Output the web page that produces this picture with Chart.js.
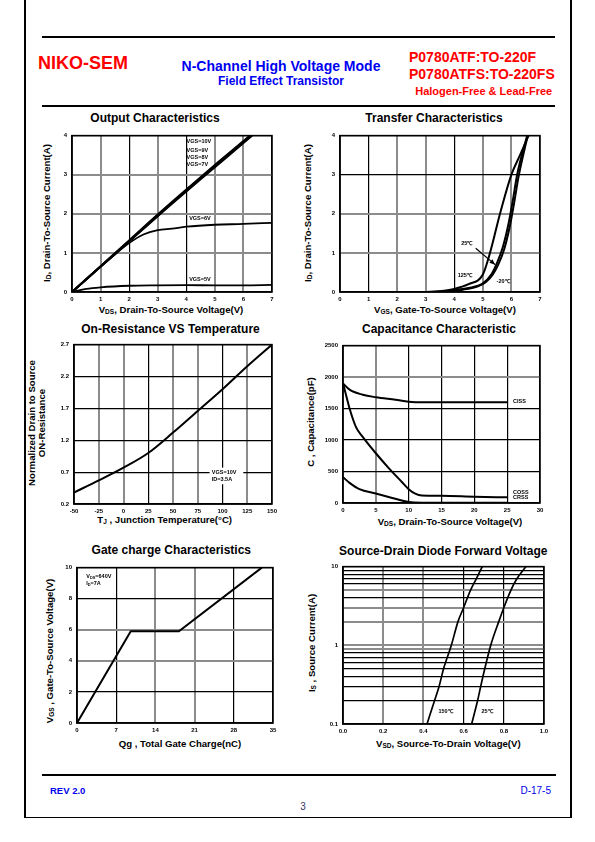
<!DOCTYPE html>
<html>
<head>
<meta charset="utf-8">
<script src="https://cdn.jsdelivr.net/npm/chart.js@4.4.1/dist/chart.umd.min.js"></script>
<style>
  body { margin: 0; background: #fff; }
  #page { position: relative; width: 595px; height: 842px; overflow: hidden; font-family: "Liberation Sans", Arial, sans-serif; }
  .t { position: absolute; white-space: nowrap; line-height: 1; font-weight: bold; color: #000; }
  .c { transform: translateX(-50%); }
  .r { transform: translate(-50%, -50%) rotate(-90deg); }
  .s { font-size: 0.68em; vertical-align: -0.12em; }
  .ln { position: absolute; background: #000; }
  canvas { position: absolute; }
  .red { color: #ff0000; }
  .blue { color: #0000f0; }
  .ttl { font-size: 12px; }
  .ax { font-size: 9.6px; }
</style>
</head>
<body>
<div id="page">
  <!-- page frame -->
  <div class="ln" style="left:24px;top:0;width:1.5px;height:818px"></div>
  <div class="ln" style="left:570px;top:0;width:1.5px;height:818px"></div>
  <div class="ln" style="left:24px;top:816.5px;width:547.5px;height:1.5px"></div>
  <div class="ln" style="left:42px;top:36px;width:513px;height:2px"></div>
  <div class="ln" style="left:42px;top:105px;width:513px;height:2px"></div>
  <div class="ln" style="left:42px;top:774px;width:514px;height:2px"></div>

  <!-- header -->
  <div class="t red" style="left:38px;top:54px;font-size:18px">NIKO-SEM</div>
  <div class="t blue c" style="left:281px;top:59.2px;font-size:14px">N-Channel High Voltage Mode</div>
  <div class="t blue c" style="left:281px;top:75.1px;font-size:12px">Field Effect Transistor</div>
  <div class="t red" style="left:409px;top:50.4px;font-size:14px">P0780ATF:TO-220F</div>
  <div class="t red" style="left:409px;top:66.9px;font-size:14px">P0780ATFS:TO-220FS</div>
  <div class="t red c" style="left:483.7px;top:85.8px;font-size:11px">Halogen-Free &amp; Lead-Free</div>

  <!-- footer -->
  <div class="t blue" style="left:50px;top:785.5px;font-size:9.5px">REV 2.0</div>
  <div class="t blue" style="right:44px;top:785.5px;font-size:10px;font-weight:normal">D-17-5</div>
  <div class="t c" style="left:303px;top:802px;font-size:10px;font-weight:normal;color:#333366">3</div>

  <!-- chart titles -->
  <div class="t c ttl" style="left:155px;top:111.7px">Output Characteristics</div>
  <div class="t c ttl" style="left:434px;top:112.4px">Transfer Characteristics</div>
  <div class="t c ttl" style="left:170.5px;top:323.4px">On-Resistance VS Temperature</div>
  <div class="t c ttl" style="left:439px;top:323.4px">Capacitance Characteristic</div>
  <div class="t c ttl" style="left:171.3px;top:544.1px">Gate charge Characteristics</div>
  <div class="t c ttl" style="left:443.3px;top:545.1px">Source-Drain Diode Forward Voltage</div>

  <!-- axis titles -->
  <div class="t c ax" style="left:171px;top:305.4px">V<span class="s">DS</span>, Drain-To-Source Voltage(V)</div>
  <div class="t r ax" style="left:47px;top:212.5px">I<span class="s">D</span>, Drain-To-Source Current(A)</div>
  <div class="t c ax" style="left:445px;top:305.4px">V<span class="s">GS</span>, Gate-To-Source Voltage(V)</div>
  <div class="t r ax" style="left:307.5px;top:212.5px">I<span class="s">D</span>, Drain-To-Source Current(A)</div>
  <div class="t c ax" style="left:164.7px;top:515.4px">T<span class="s">J</span> , Junction Temperature(°C)</div>
  <div class="t r ax" style="left:32px;top:423px">Normalized Drain to Source</div>
  <div class="t r ax" style="left:41.7px;top:423px">ON-Resistance</div>
  <div class="t c ax" style="left:450px;top:516.7px">V<span class="s">DS</span>, Drain-To-Source Voltage(V)</div>
  <div class="t r ax" style="left:311px;top:421.7px">C , Capacitance(pF)</div>
  <div class="t c ax" style="left:180px;top:738.7px">Qg , Total Gate Charge(nC)</div>
  <div class="t r ax" style="left:50.3px;top:651px">V<span class="s">GS</span> , Gate-To-Source Voltage(V)</div>
  <div class="t c ax" style="left:448.3px;top:738.7px">V<span class="s">SD</span>, Source-To-Drain Voltage(V)</div>
  <div class="t r ax" style="left:311.7px;top:642.5px">I<span class="s">S</span> , Source Current(A)</div>
</div>

<script>
const G = '#8c8c8c', K = '#000000';
const FONT = '"Liberation Sans", Arial, sans-serif';

// Output Characteristics
const outTicksX = [0, 1, 2, 3, 4, 5, 6, 7];
const outTicksY = [0, 1, 2, 3, 4];
const vgs10X = [0, 1, 2, 3, 4, 5, 6, 6.22];
const vgs10Y = [0, 0.66, 1.32, 1.98, 2.62, 3.25, 3.86, 4];
const vgs9X = [0, 1, 2, 3, 4, 5, 6, 6.25];
const vgs9Y = [0, 0.655, 1.31, 1.97, 2.6, 3.23, 3.85, 4];
const vgs8X = [0, 1, 2, 3, 4, 5, 6, 6.28];
const vgs8Y = [0, 0.65, 1.3, 1.95, 2.59, 3.21, 3.83, 4];
const vgs7X = [0, 1, 2, 3, 4, 5, 6, 6.31];
const vgs7Y = [0, 0.645, 1.29, 1.94, 2.57, 3.19, 3.81, 4];
const vgs6X = [0, 0.5, 1, 1.5, 2, 2.5, 3, 3.5, 4, 5, 6, 7];
const vgs6Y = [0, 0.33, 0.65, 0.96, 1.25, 1.47, 1.58, 1.62, 1.67, 1.72, 1.74, 1.77];
const vgs5X = [0, 0.5, 1, 2, 3, 4, 5, 6, 7];
const vgs5Y = [0, 0.08, 0.12, 0.16, 0.17, 0.175, 0.17, 0.17, 0.18];

// Transfer Characteristics
const trTicksX = [0, 1, 2, 3, 4, 5, 6, 7];
const trTicksY = [0, 1, 2, 3, 4];
const t125X = [3, 3.5, 4, 4.5, 5, 5.25, 5.6, 6.0, 6.3, 6.6];
const t125Y = [0, 0.02, 0.08, 0.2, 0.45, 1.0, 2.0, 3.0, 3.5, 4];
const t25X = [3, 3.5, 4, 4.5, 5, 5.3, 5.5, 5.7, 5.9, 6.05, 6.2, 6.55];
const t25Y = [0, 0.01, 0.05, 0.1, 0.22, 0.45, 0.75, 1.15, 1.75, 2.35, 3.0, 4];
const tm20X = [3.3, 3.8, 4.3, 4.8, 5.1, 5.35, 5.55, 5.75, 5.95, 6.1, 6.25, 6.57];
const tm20Y = [0, 0.02, 0.06, 0.14, 0.25, 0.45, 0.72, 1.1, 1.7, 2.3, 2.95, 4];

// On-Resistance VS Temperature
const rTicksX = [-50, -25, 0, 25, 50, 75, 100, 125, 150];
const rTicksY = [0.2, 0.7, 1.2, 1.7, 2.2, 2.7];
const tjX = [-50, -25, 0, 25, 50, 75, 100, 125, 150];
const rdsY = [0.38, 0.57, 0.77, 1.0, 1.32, 1.66, 2.0, 2.36, 2.7];

// Capacitance Characteristic
const cTicksX = [0, 5, 10, 15, 20, 25, 30];
const cTicksY = [0, 500, 1000, 1500, 2000, 2500];
const cissX = [0, 1, 3, 5, 8, 10, 12, 15, 20, 25];
const cissY = [1900, 1800, 1720, 1680, 1640, 1610, 1600, 1600, 1600, 1600];
const cossX = [0, 0.5, 1, 2, 3, 5, 7, 9, 10, 11, 12, 15, 20, 25];
const cossY = [1900, 1700, 1500, 1200, 1050, 790, 550, 330, 220, 150, 120, 115, 100, 90];
const crssX = [0, 1, 2.5, 5, 7.5, 10, 12, 15, 25];
const crssY = [410, 320, 220, 150, 80, 15, 5, 5, 5];

// Gate charge Characteristics
const qTicksX = [0, 7, 14, 21, 28, 35];
const qTicksY = [0, 2, 4, 6, 8, 10];
const qgX = [0, 9.6, 18.2, 33];
const vgsY = [0, 5.9, 5.9, 10];

// Source-Drain Diode Forward Voltage
const sTicksX = [0, 0.2, 0.4, 0.6, 0.8, 1.0];
const sTicksY = [0.1, 0.2, 0.3, 0.4, 0.5, 0.6, 0.7, 0.8, 0.9, 1, 2, 3, 4, 5, 6, 7, 8, 9, 10];
const sLabelsX = ['0.0', '0.2', '0.4', '0.6', '0.8', '1.0'];
const sLabelsY = ['0.1', '', '', '', '', '', '', '', '', '1', '', '', '', '', '', '', '', '', '10'];
const sd150X = [0.418, 0.456, 0.478, 0.5, 0.539, 0.572, 0.6, 0.634, 0.663, 0.693];
const sd150Y = [0.1, 0.2, 0.3, 0.5, 1, 2, 3, 5, 7, 10];
const sd25X = [0.64, 0.67, 0.685, 0.705, 0.735, 0.775, 0.8, 0.835, 0.865, 0.91];
const sd25Y = [0.1, 0.2, 0.3, 0.5, 1, 2, 3, 5, 7, 10];

function pts(xs, ys) { return xs.map((v, i) => ({ x: v, y: ys[i] })); }

// border round the plot area
const frame = {
  id: 'frame',
  afterDraw(chart) {
    const a = chart.chartArea, ctx = chart.ctx;
    ctx.save();
    ctx.strokeStyle = K; ctx.lineWidth = 1.5;
    ctx.strokeRect(a.left, a.top, a.right - a.left, a.bottom - a.top);
    ctx.restore();
  }
};

// text with _{sub} parts
function rich(ctx, text, x, y, size) {
  text.split(/_\{([^}]*)\}/).forEach((p, i) => {
    if (!p) return;
    const sub = i % 2 === 1;
    ctx.font = 'bold ' + (sub ? size * 0.7 : size) + 'px ' + FONT;
    ctx.fillText(p, x, y + (sub ? size * 0.25 : 0));
    x += ctx.measureText(p).width;
  });
}

// curve names, boxes and arrows, placed in data units
const notes = {
  id: 'notes',
  afterDatasetsDraw(chart, args, o) {
    const ctx = chart.ctx, xs = chart.scales.x, ys = chart.scales.y;
    ctx.save();
    ctx.fillStyle = '#fff';
    (o.boxes || []).forEach(b => {
      const x1 = xs.getPixelForValue(b[0]), y1 = ys.getPixelForValue(b[1]);
      const x2 = xs.getPixelForValue(b[2]), y2 = ys.getPixelForValue(b[3]);
      ctx.fillRect(x1, y1, x2 - x1, y2 - y1);
    });
    ctx.strokeStyle = K; ctx.fillStyle = K; ctx.lineWidth = 1.2;
    (o.arrows || []).forEach(a => {
      const x1 = xs.getPixelForValue(a[0]), y1 = ys.getPixelForValue(a[1]);
      const x2 = xs.getPixelForValue(a[2]), y2 = ys.getPixelForValue(a[3]);
      const ang = Math.atan2(y2 - y1, x2 - x1);
      ctx.beginPath(); ctx.moveTo(x1, y1); ctx.lineTo(x2, y2); ctx.stroke();
      ctx.beginPath(); ctx.moveTo(x2, y2);
      ctx.lineTo(x2 - 6 * Math.cos(ang - 0.4), y2 - 6 * Math.sin(ang - 0.4));
      ctx.lineTo(x2 - 6 * Math.cos(ang + 0.4), y2 - 6 * Math.sin(ang + 0.4));
      ctx.closePath(); ctx.fill();
    });
    ctx.textBaseline = 'middle'; ctx.textAlign = 'left';
    (o.items || []).forEach(n => rich(ctx, n.text, xs.getPixelForValue(n.x), ys.getPixelForValue(n.y), o.size || 5.5));
    ctx.restore();
  }
};

function axis(isX, ticks, labels, grid, log) {
  return {
    type: log ? 'logarithmic' : 'linear',
    min: ticks[0], max: ticks[ticks.length - 1],
    afterBuildTicks: s => { s.ticks = ticks.map(v => ({ value: v })); },
    afterFit: s => { if (isX) s.height = 14; else s.width = 30; },
    grid: {
      drawTicks: false,
      color: c => grid[c.index] || K,
      lineWidth: c => (grid[c.index] === G ? 2 : 1.2)
    },
    border: { color: K, width: 1.5 },
    ticks: {
      autoSkip: false, maxRotation: 0, padding: isX ? 4 : 5, color: K,
      font: { family: FONT, size: 6, weight: 'bold' },
      callback: (v, i) => labels[i]
    }
  };
}

function makeChart(box, xAx, yAx, series, noteOpts) {
  const [L, T, R, B] = box;
  const cv = document.createElement('canvas');
  cv.width = R - L + 40; cv.height = B - T + 20;
  cv.style.left = (L - 30) + 'px'; cv.style.top = (T - 6) + 'px';
  document.getElementById('page').appendChild(cv);
  new Chart(cv, {
    type: 'scatter',
    data: {
      datasets: series.map(s => ({
        data: s.data, showLine: true, borderColor: K, borderWidth: s.w || 2,
        pointRadius: 0, pointHoverRadius: 0, tension: 0,
        cubicInterpolationMode: s.straight ? 'default' : 'monotone'
      }))
    },
    options: {
      responsive: false, animation: false, devicePixelRatio: 1,
      layout: { padding: { left: 0, top: 6, right: 10, bottom: 0 } },
      scales: { x: xAx, y: yAx },
      plugins: { legend: { display: false }, tooltip: { enabled: false }, notes: noteOpts }
    },
    plugins: [frame, notes]
  });
}

makeChart([72, 133, 272, 292],
  axis(true, outTicksX, outTicksX.map(String), [K, G, K, G, K, G, G, K]),
  axis(false, outTicksY, outTicksY.map(String), [K, G, G, G, K]),
  [
    { data: pts(vgs10X, vgs10Y) }, { data: pts(vgs9X, vgs9Y) },
    { data: pts(vgs8X, vgs8Y) }, { data: pts(vgs7X, vgs7Y) },
    { data: pts(vgs6X, vgs6Y), w: 1.8 }, { data: pts(vgs5X, vgs5Y), w: 1.8 }
  ],
  { items: [
    { text: 'VGS=10V', x: 4.01, y: 3.84 }, { text: 'VGS=9V', x: 4.01, y: 3.63 },
    { text: 'VGS=8V', x: 4.01, y: 3.43 }, { text: 'VGS=7V', x: 4.01, y: 3.25 },
    { text: 'VGS=6V', x: 4.1, y: 1.87 }, { text: 'VGS=5V', x: 4.1, y: 0.32 }
  ] });

makeChart([340, 133, 540, 292],
  axis(true, trTicksX, trTicksX.map(String), [K, K, G, G, K, G, G, K]),
  axis(false, trTicksY, trTicksY.map(String), [K, G, G, K, K]),
  [{ data: pts(t125X, t125Y) }, { data: pts(t25X, t25Y) }, { data: pts(tm20X, tm20Y) }],
  { items: [
    { text: '25℃', x: 4.24, y: 1.23 }, { text: '125℃', x: 4.12, y: 0.42 },
    { text: '-20℃', x: 5.48, y: 0.27 }
  ], arrows: [[4.75, 1.12, 5.43, 0.7]] });

makeChart([74, 342, 272, 504],
  axis(true, rTicksX, rTicksX.map(String), [K, G, G, K, G, G, K, G, K]),
  axis(false, rTicksY, rTicksY.map(v => v.toFixed(1)), [K, K, K, K, K, K]),
  [{ data: pts(tjX, rdsY) }],
  { boxes: [[87, 0.77, 121, 0.51]], items: [
    { text: 'VGS=10V', x: 89.2, y: 0.70 }, { text: 'ID=3.5A', x: 89.2, y: 0.58 }
  ] });

makeChart([343, 343, 540, 503],
  axis(true, cTicksX, cTicksX.map(String), [K, G, K, K, K, K, K]),
  axis(false, cTicksY, cTicksY.map(String), [K, K, K, K, G, K]),
  [{ data: pts(cissX, cissY) }, { data: pts(cossX, cossY) }, { data: pts(crssX, crssY) }],
  { items: [
    { text: 'CISS', x: 25.9, y: 1608 }, { text: 'COSS', x: 25.9, y: 161 },
    { text: 'CRSS', x: 25.9, y: 89 }
  ] });

makeChart([77, 565, 273, 723],
  axis(true, qTicksX, qTicksX.map(String), [K, K, G, G, K, K]),
  axis(false, qTicksY, qTicksY.map(String), [K, K, G, G, K, K]),
  [{ data: pts(qgX, vgsY), straight: true }],
  { items: [
    { text: 'V_{DS}=640V', x: 1.66, y: 9.41 }, { text: 'I_{D}=7A', x: 1.66, y: 8.99 }
  ] });

makeChart([343, 564, 544, 724],
  axis(true, sTicksX, sLabelsX, [K, G, G, K, K, K]),
  axis(false, sTicksY, sLabelsY, [K, K, K, K, K, K, K, K, G, G, G, G, K, G, K, K, K, K, K], true),
  [{ data: pts(sd150X, sd150Y), w: 1.7 }, { data: pts(sd25X, sd25Y), w: 1.7 }],
  { items: [
    { text: '150℃', x: 0.475, y: 0.1436 }, { text: '25℃', x: 0.689, y: 0.1436 }
  ] });
</script>
</body>
</html>
